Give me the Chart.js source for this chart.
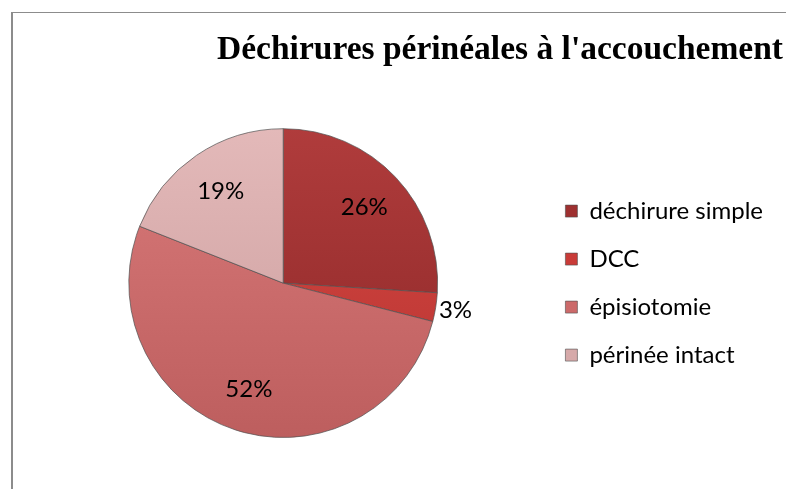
<!DOCTYPE html>
<html>
<head>
<meta charset="utf-8">
<script src="https://cdn.jsdelivr.net/npm/chart.js@4"></script>
<style>
  html, body { margin: 0; padding: 0; background: #fff; }
  #wrap { position: relative; width: 786px; height: 489px; overflow: hidden; }
  #frame {
    position: absolute; left: 11px; top: 12px; width: 800px; height: 500px;
    border-left: 2px solid #8c8c8c; border-top: 1px solid #8c8c8c;
  }
  #chart { position: absolute; left: 0; top: 0; }
</style>
</head>
<body>
<div id="wrap">
  <div id="frame"></div>
  <canvas id="chart" width="786" height="489"></canvas>
</div>
<script>
const titleText = "Déchirures périnéales à l'accouchement";
const categories = ["déchirure simple", "DCC", "épisiotomie", "périnée intact"];
const percentages = [26, 3, 52, 19];
const sliceColors = ["#9e3030", "#c93b38", "#cc6a6a", "#d6a9a9"];
const sliceTopColors = ["#b03c3c", "#d94a44", "#d97a7a", "#e3b9b9"];
const sliceBottomColors = ["#8c2727", "#b53230", "#bd5e5e", "#cb9d9d"];

const labelFont = "Lato, 'Open Sans', sans-serif";

// vertical gradient per slice, a rough take on the bevel look
function sliceFill(ctx) {
  const chart = ctx.chart;
  const area = chart.chartArea;
  const i = ctx.dataIndex;
  if (!area || i === undefined) return sliceColors[i] || "#ccc";
  const g = chart.ctx.createLinearGradient(0, area.top, 0, area.bottom);
  g.addColorStop(0, sliceTopColors[i]);
  g.addColorStop(1, sliceBottomColors[i]);
  return g;
}

const pctLabels = {
  id: "pctLabels",
  afterDatasetsDraw(chart) {
    const ctx = chart.ctx;
    const meta = chart.getDatasetMeta(0);
    ctx.save();
    ctx.font = "24px " + labelFont;
    ctx.fillStyle = "#000";
    ctx.textAlign = "center";
    ctx.textBaseline = "middle";
    meta.data.forEach((arc, i) => {
      const p = arc.getProps(["x", "y", "startAngle", "endAngle", "outerRadius"], true);
      const mid = (p.startAngle + p.endAngle) / 2;
      const small = percentages[i] < 5;
      const r = small ? p.outerRadius + 20 : p.outerRadius * 0.72;
      ctx.fillText(percentages[i] + "%", p.x + Math.cos(mid) * r, p.y + Math.sin(mid) * r);
    });
    ctx.restore();
  }
};

// title sits further right than the legend margin allows
const titleNudge = {
  id: "titleNudge",
  afterLayout(chart) {
    if (chart.titleBlock) chart.titleBlock.right += 10;
  }
};

new Chart(document.getElementById("chart"), {
  type: "pie",
  data: {
    labels: categories,
    datasets: [{
      data: percentages,
      backgroundColor: sliceFill,
      borderColor: "rgba(80,80,80,0.7)",
      borderWidth: 1
    }]
  },
  options: {
    responsive: false,
    animation: false,
    layout: { padding: { left: 25, right: 13, top: 10, bottom: 51 } },
    plugins: {
      title: {
        display: true,
        text: titleText,
        align: "end",
        color: "#000",
        font: { family: "'Liberation Serif', 'Times New Roman', serif", size: 33.5, weight: "bold" },
        padding: { top: 20, bottom: 58 }
      },
      legend: {
        position: "right",
        fullSize: false,
        labels: {
          font: { family: labelFont, size: 24 },
          color: "#000",
          boxWidth: 12,
          boxHeight: 12,
          padding: 24,
          generateLabels: chart => categories.map((c, i) => ({
            text: c,
            fillStyle: sliceColors[i],
            strokeStyle: "rgba(80,80,80,0.6)",
            lineWidth: 1,
            index: i
          }))
        }
      },
      tooltip: { enabled: false }
    }
  },
  plugins: [pctLabels, titleNudge]
});
</script>
</body>
</html>
